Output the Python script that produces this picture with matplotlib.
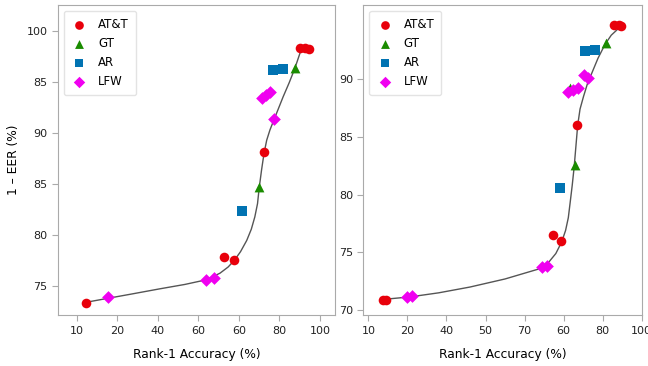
import matplotlib
matplotlib.use("Agg")
import matplotlib.pyplot as plt

# left panel (x in evenly spaced tick units, labels as printed)
l_xticks = [10, 25, 40, 55, 70, 85, 100]
l_xlabels = ["10", "20", "40", "60", "60", "80", "100"]
l_yticks = [75, 80, 85, 90, 95, 100]
l_ylabels = ["75", "80", "85", "90", "85", "100"]

l_att_x = [13.3, 64.6, 68.3, 79.4, 92.6, 94.4, 95.9]
l_att_y = [73.4, 77.9, 77.6, 88.1, 98.3, 98.3, 98.25]
l_gt_x = [77.5, 90.7]
l_gt_y = [84.7, 96.4]
l_ar_x = [71.0, 82.5, 86.2]
l_ar_y = [82.35, 96.2, 96.25]
l_lfw_x = [21.6, 58.0, 60.7, 78.4, 80.0, 81.7, 83.0]
l_lfw_y = [73.95, 75.66, 75.85, 93.45, 93.7, 94.0, 91.4]
l_fit_x = [13.3, 21.6, 30, 40.7, 50, 58.0, 63.0, 66.0, 68.3, 70.6, 72.9, 74.6,
           75.9, 76.9, 77.5, 78.4, 79.3, 80.3, 81.5, 83.3, 86.4, 88.6, 90.7, 93.0]
l_fit_y = [73.45, 73.85, 74.25, 74.77, 75.2, 75.66, 76.3, 76.9, 77.55, 78.4,
           79.5, 80.6, 81.8, 83.1, 84.6, 86.4, 88.0, 89.3, 90.3, 91.5, 93.55,
           94.9, 96.3, 98.1]

# right panel
r_xticks = [10, 20, 30, 40, 50, 60, 70, 80]
r_xlabels = ["10", "20", "40", "50", "70", "60", "80", "100"]
r_yticks = [70, 75, 80, 85, 90]
r_ylabels = ["70", "75", "80", "85", "90"]

r_att_x = [13.8, 14.5, 57.2, 59.35, 63.4, 73.0, 74.2, 74.8]
r_att_y = [70.87, 70.87, 76.47, 76.0, 86.03, 94.64, 94.64, 94.6]
r_gt_x = [62.9, 70.9, 61.65]
r_gt_y = [82.6, 93.1, 89.2]
r_ar_x = [59.1, 65.5, 68.1]
r_ar_y = [80.6, 92.47, 92.5]
r_lfw_x = [19.8, 21.1, 54.4, 55.7, 61.2, 62.5, 63.8, 65.1, 66.3]
r_lfw_y = [71.15, 71.2, 73.7, 73.84, 88.9, 89.06, 89.2, 90.36, 90.13]
r_fit_x = [13.8, 20.7, 28, 36.0, 45, 54.0, 56.3, 58.0, 59.5, 60.5, 61.2,
           61.65, 62.2, 62.7, 63.1, 63.6, 64.2, 65.1, 66.1, 67.2, 68.8, 70.6,
           72.2, 73.8]
r_fit_y = [70.93, 71.15, 71.5, 72.0, 72.7, 73.6, 74.2, 74.9, 75.9, 76.9, 78.0,
           79.25, 80.8, 82.4, 84.0, 86.0, 87.4, 88.5, 89.6, 90.5, 91.8, 93.0,
           93.8, 94.3]

red = "#e8000b"
green = "#1a8c00"
blue = "#0173b2"
pink = "#f000f0"
edge = "#aaaaaa"


def draw(ax, fit_x, fit_y, att, gt, ar, lfw):
    ax.plot(fit_x, fit_y, color="#555555", lw=1, zorder=1)
    ax.scatter(att[0], att[1], s=48, marker="o", color=red, linewidths=0,
               label="AT&T", zorder=2)
    ax.scatter(gt[0], gt[1], s=50, marker="^", color=green, linewidths=0,
               label="GT", zorder=2)
    ax.scatter(ar[0], ar[1], s=42, marker="s", color=blue, linewidths=0,
               label="AR", zorder=2)
    ax.scatter(lfw[0], lfw[1], s=42, marker="D", color=pink, linewidths=0,
               label="LFW", zorder=2)
    for sp in ax.spines.values():
        sp.set_color(edge)
    ax.tick_params(colors=edge, labelcolor="#222222", labelsize=8, length=4)
    leg = ax.legend(loc="upper left", fontsize=8.5, labelspacing=0.5,
                    borderpad=0.6, handlelength=1.4, handletextpad=0.9,
                    markerscale=0.9, scatterpoints=1)
    leg.get_frame().set_edgecolor("#dddddd")


fig = plt.figure(figsize=(6.48, 3.66), dpi=100)
ax1 = fig.add_axes([0.0895, 0.139, 0.4275, 0.847])
ax2 = fig.add_axes([0.5607, 0.139, 0.4296, 0.847])

draw(ax1, l_fit_x, l_fit_y, (l_att_x, l_att_y), (l_gt_x, l_gt_y),
     (l_ar_x, l_ar_y), (l_lfw_x, l_lfw_y))
ax1.set_xlim(3, 105.6)
ax1.set_ylim(72.2, 102.5)
ax1.set_xticks(l_xticks)
ax1.set_xticklabels(l_xlabels)
ax1.set_yticks(l_yticks)
ax1.set_yticklabels(l_ylabels)
ax1.set_xlabel("Rank-1 Accuracy (%)", fontsize=8.8, labelpad=9)
ax1.set_ylabel("1 \u2013 EER (%)", fontsize=8.8, labelpad=5)

draw(ax2, r_fit_x, r_fit_y, (r_att_x, r_att_y), (r_gt_x, r_gt_y),
     (r_ar_x, r_ar_y), (r_lfw_x, r_lfw_y))
ax2.set_xlim(8.7, 80)
ax2.set_ylim(69.57, 96.4)
ax2.set_xticks(r_xticks)
ax2.set_xticklabels(r_xlabels)
ax2.set_yticks(r_yticks)
ax2.set_yticklabels(r_ylabels)
ax2.set_xlabel("Rank-1 Accuracy (%)", fontsize=8.8, labelpad=9)

fig.savefig("out.png", dpi=100)
